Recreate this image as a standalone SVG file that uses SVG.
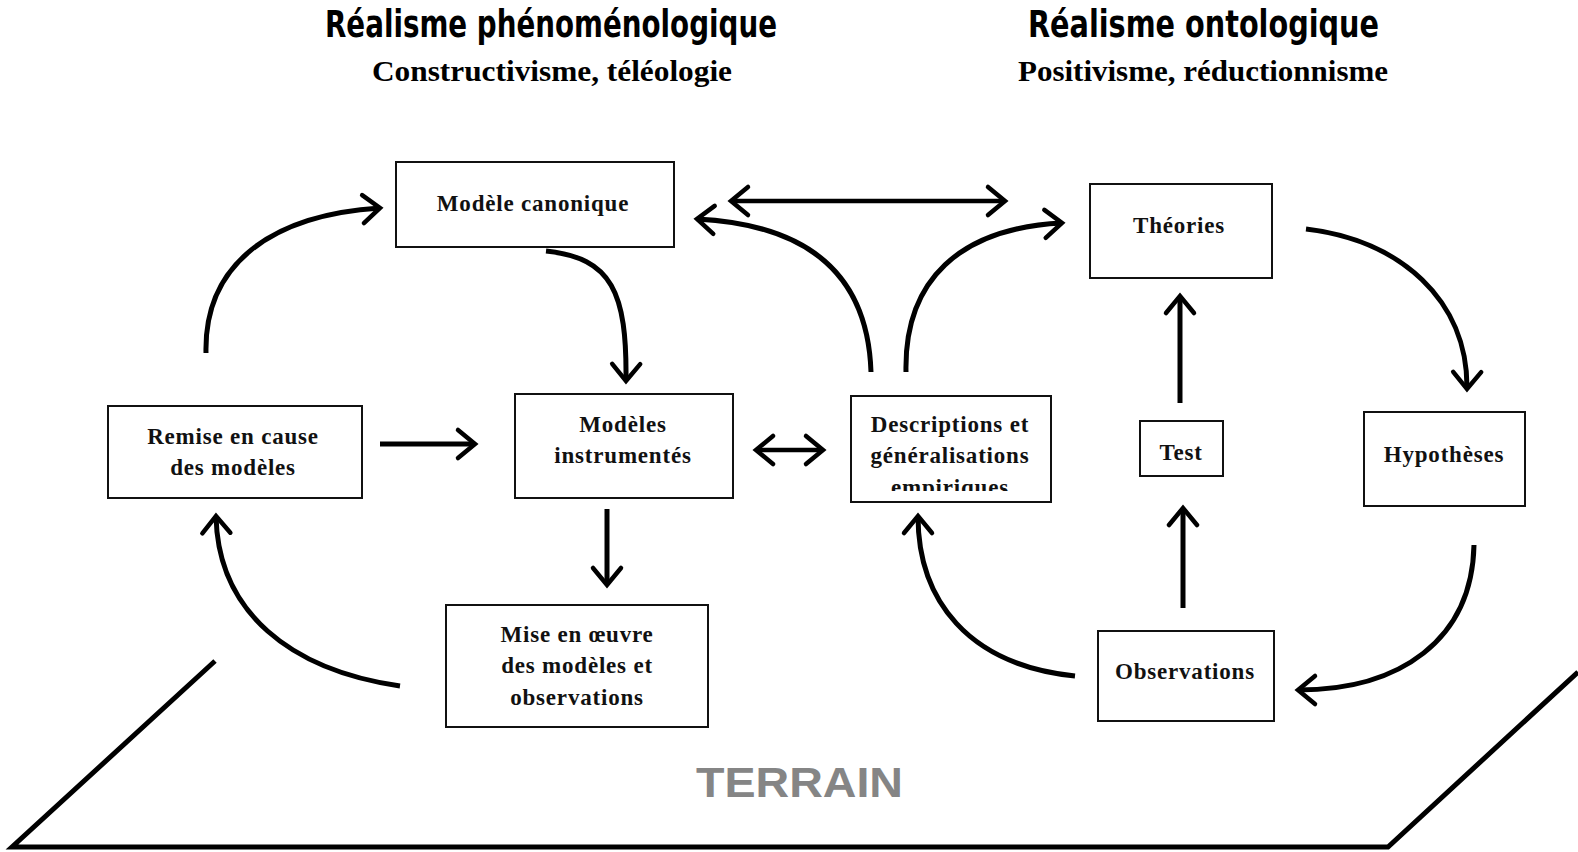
<svg xmlns="http://www.w3.org/2000/svg" width="1578" height="852" viewBox="0 0 1578 852">
<style>
.box{fill:#fff;stroke:#111;stroke-width:2}
.lbl{font-family:"Liberation Serif","Times New Roman",serif;font-weight:bold;font-size:23px;letter-spacing:0.8px;text-anchor:middle;fill:#111}
.title{font-family:"Liberation Sans Narrow","DejaVu Sans Condensed","Liberation Sans",sans-serif;font-weight:bold;font-size:37px;fill:#000}
.sub{font-family:"Liberation Serif","Times New Roman",serif;font-weight:bold;font-size:30px;fill:#000}
.c{fill:none;stroke:#000;stroke-width:5;marker-end:url(#ah)}
.d{fill:none;stroke:#000;stroke-width:4.5;marker-end:url(#ah);marker-start:url(#ah)}
</style>
<defs>
<marker id="ah" markerUnits="userSpaceOnUse" markerWidth="40" markerHeight="40" refX="0" refY="0" viewBox="-25 -20 30 40" orient="auto-start-reverse" overflow="visible">
<path d="M-17,-14 L0,0 L-17,14" fill="none" stroke="#000" stroke-width="4.5" stroke-linecap="round" stroke-linejoin="miter"/>
</marker>
<clipPath id="clipDesc"><rect x="851" y="395" width="200" height="96"/></clipPath>
</defs>

<g id="titles">
<text class="title" x="325" y="37" textLength="452" lengthAdjust="spacingAndGlyphs">Réalisme phénoménologique</text>
<text class="sub" x="372" y="81" textLength="360" lengthAdjust="spacingAndGlyphs">Constructivisme, téléologie</text>
<text class="title" x="1028" y="37" textLength="351" lengthAdjust="spacingAndGlyphs">Réalisme ontologique</text>
<text class="sub" x="1018" y="81" textLength="370" lengthAdjust="spacingAndGlyphs">Positivisme, réductionnisme</text>
</g>

<g id="terrain">
<polyline points="215,661 12,847 1388,847 1578,672" fill="none" stroke="#000" stroke-width="5"/>
<text x="696" y="797" textLength="207" lengthAdjust="spacingAndGlyphs" style="font-family:'Liberation Sans',Arial,sans-serif;font-weight:bold;font-size:42px;fill:#858585">TERRAIN</text>
</g>

<g id="connectors">
<path class="c" d="M206,353 C204,265 270,215 380,208"/>
<path class="c" d="M546,251 C612,258 627,292 626,381"/>
<path class="c" d="M380,444 L475,444"/>
<path class="d" d="M756,450 L823,450"/>
<path class="c" d="M607,509 L607,585"/>
<path class="c" d="M400,686 C290,670 218,612 216,516"/>
<path class="c" d="M871,372 C868,280 815,225 697,219"/>
<path class="c" d="M906,372 C904,280 960,228 1062,223"/>
<path class="d" d="M731,201 L1005,201"/>
<path class="c" d="M1180,403 L1180,296"/>
<path class="c" d="M1183,608 L1183,508"/>
<path class="c" d="M1306,229 C1400,240 1468,300 1467,389"/>
<path class="c" d="M1474,545 C1472,640 1400,690 1298,690"/>
<path class="c" d="M1075,676 C968,665 918,600 918,516"/>
</g>

<g id="n-canonique">
<rect class="box" x="396" y="162" width="278" height="85"/>
<text class="lbl" x="533" y="211">Modèle canonique</text>
</g>
<g id="n-instrumentes">
<rect class="box" x="515" y="394" width="218" height="104"/>
<text class="lbl" x="623" y="432">Modèles</text>
<text class="lbl" x="623" y="463">instrumentés</text>
</g>
<g id="n-remise">
<rect class="box" x="108" y="406" width="254" height="92"/>
<text class="lbl" x="233" y="444">Remise en cause</text>
<text class="lbl" x="233" y="475">des modèles</text>
</g>
<g id="n-descriptions">
<rect class="box" x="851" y="396" width="200" height="106"/>
<g clip-path="url(#clipDesc)">
<text class="lbl" x="950" y="432">Descriptions et</text>
<text class="lbl" x="950" y="463">généralisations</text>
<text class="lbl" x="950" y="495">empiriques</text>
</g>
</g>
<g id="n-mise">
<rect class="box" x="446" y="605" width="262" height="122"/>
<text class="lbl" x="577" y="642">Mise en œuvre</text>
<text class="lbl" x="577" y="673">des modèles et</text>
<text class="lbl" x="577" y="705">observations</text>
</g>
<g id="n-theories">
<rect class="box" x="1090" y="184" width="182" height="94"/>
<text class="lbl" x="1179" y="233">Théories</text>
</g>
<g id="n-test">
<rect class="box" x="1140" y="421" width="83" height="55"/>
<text class="lbl" x="1181" y="460">Test</text>
</g>
<g id="n-hypotheses">
<rect class="box" x="1364" y="412" width="161" height="94"/>
<text class="lbl" x="1444" y="462">Hypothèses</text>
</g>
<g id="n-observations">
<rect class="box" x="1098" y="631" width="176" height="90"/>
<text class="lbl" x="1185" y="679">Observations</text>
</g>
</svg>
